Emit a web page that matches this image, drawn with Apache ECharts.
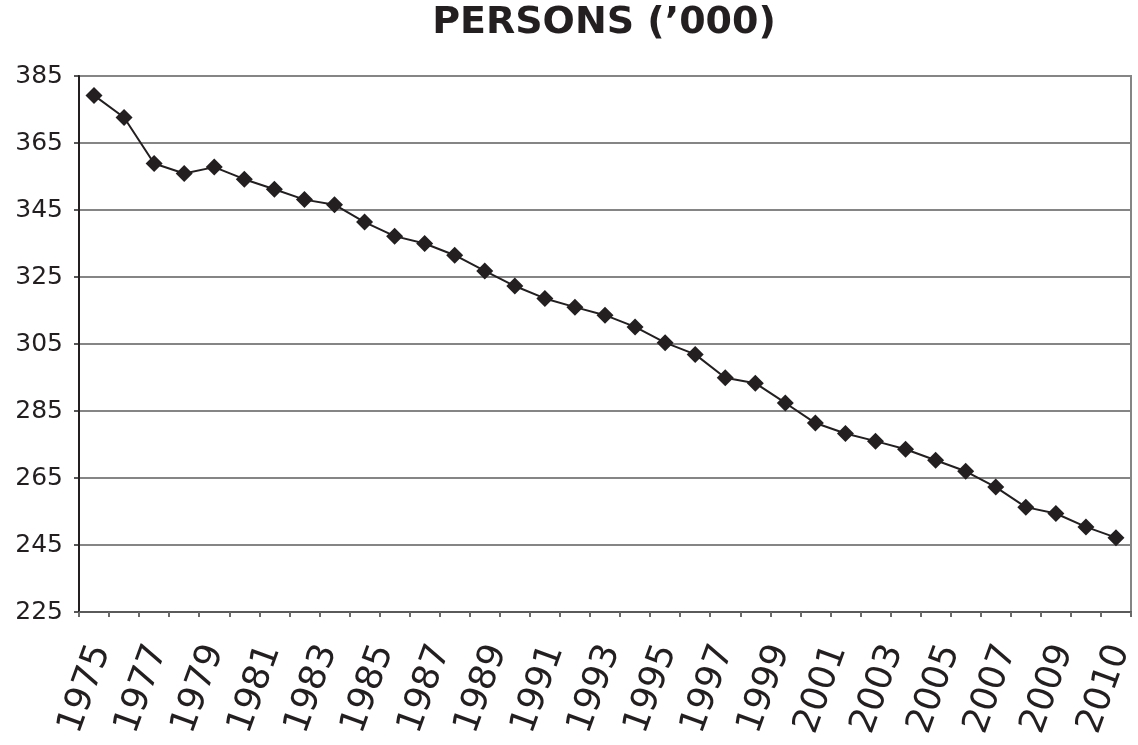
<!DOCTYPE html>
<html>
<head>
<meta charset="utf-8">
<title>PERSONS ('000)</title>
<script src="https://cdn.jsdelivr.net/npm/echarts@6/dist/echarts.min.js"></script>
<style>
  html, body { margin: 0; padding: 0; background: #ffffff; }
  #chart { width: 1138px; height: 745px; }
</style>
</head>
<body>
<div id="chart"></div>
<script>
// Yearly points plotted on the line
const years = [
  '1975', '1976', '1977', '1978', '1979', '1980', '1981', '1982', '1983', '1984',
  '1985', '1986', '1987', '1988', '1989', '1990', '1991', '1992', '1993', '1994',
  '1995', '1996', '1997', '1998', '1999', '2000', '2001', '2002', '2003', '2004',
  '2005', '2006', '2007', '2008', '2009'
];

// Persons, thousands
const persons = [
  379.2, 372.6, 358.9, 355.9, 357.8, 354.2, 351.2, 348.1, 346.6, 341.4,
  337.2, 335.0, 331.5, 326.8, 322.3, 318.6, 316.0, 313.6, 310.1, 305.4,
  301.9, 294.9, 293.3, 287.4, 281.4, 278.3, 276.0, 273.6, 270.3, 267.0,
  262.3, 256.3, 254.4, 250.4, 247.2
];

// Year labels printed under the axis
const yearLabels = [
  '1975', '1977', '1979', '1981', '1983', '1985', '1987', '1989', '1991', '1993',
  '1995', '1997', '1999', '2001', '2003', '2005', '2007', '2009', '2010'
];

const titleText = 'PERSONS (\u2019000)';
const yMin = 225;
const yMax = 385;
const yStep = 20;

const ink = '#231f20';
const gridGrey = '#858585';

const chart = echarts.init(document.getElementById('chart'), null, { renderer: 'canvas' });

chart.setOption({
  animation: false,
  backgroundColor: '#ffffff',
  title: {
    text: titleText,
    left: 604,
    top: 4,
    padding: 0,
    textAlign: 'center',
    textStyle: {
      fontFamily: 'DejaVu Sans',
      fontWeight: 'bold',
      fontSize: 38,
      color: ink
    }
  },
  grid: [
    {
      left: 79, right: 7, top: 76, bottom: 133,
      show: true,
      borderColor: gridGrey,
      borderWidth: 2,
      backgroundColor: 'transparent'
    },
    // label band for the year captions
    { left: 101, right: 16, top: 76, bottom: 133 }
  ],
  xAxis: [
    {
      type: 'category',
      gridIndex: 0,
      data: years,
      boundaryGap: true,
      axisLine: { show: true, lineStyle: { color: '#5a5a5a', width: 2 } },
      axisTick: { show: true, interval: 0, length: 5, lineStyle: { color: '#6a6a6a', width: 2 } },
      axisLabel: { show: false },
      splitLine: { show: false }
    },
    {
      type: 'category',
      gridIndex: 1,
      data: yearLabels,
      boundaryGap: false,
      axisLine: { show: false },
      axisTick: { show: false },
      splitLine: { show: false },
      axisLabel: {
        interval: 0,
        rotate: 70,
        margin: 34,
        fontFamily: 'DejaVu Sans',
        fontSize: 36,
        color: ink
      }
    }
  ],
  yAxis: [
    {
      type: 'value',
      gridIndex: 0,
      min: yMin,
      max: yMax,
      interval: yStep,
      axisLine: { show: true, lineStyle: { color: ink, width: 2 } },
      axisTick: { show: true, length: 5, lineStyle: { color: ink, width: 1.5 } },
      axisLabel: {
        margin: 16,
        fontFamily: 'DejaVu Sans',
        fontSize: 25,
        color: ink
      },
      splitLine: { show: true, lineStyle: { color: gridGrey, width: 2 } }
    },
    {
      type: 'value',
      gridIndex: 1,
      show: false
    }
  ],
  series: [
    {
      name: 'Persons',
      type: 'line',
      xAxisIndex: 0,
      yAxisIndex: 0,
      data: persons,
      symbol: 'diamond',
      symbolSize: 17,
      showAllSymbol: true,
      lineStyle: { color: ink, width: 2 },
      itemStyle: { color: ink, borderWidth: 0 },
      z: 5
    }
  ]
});
</script>
</body>
</html>
